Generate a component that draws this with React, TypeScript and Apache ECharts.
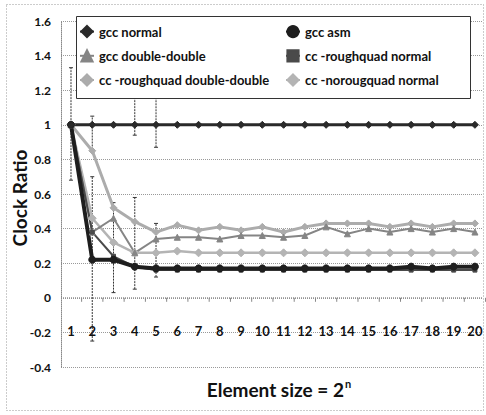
import React, { useEffect, useRef } from "react";
import * as echarts from "echarts";

const categories = [1, 2, 3, 4, 5, 6, 7, 8, 9, 10, 11, 12, 13, 14, 15, 16, 17, 18, 19, 20];
const yTicks = [-0.4, -0.2, 0, 0.2, 0.4, 0.6, 0.8, 1, 1.2, 1.4, 1.6];

const gccNormal = [1, 1, 1, 1, 1, 1, 1, 1, 1, 1, 1, 1, 1, 1, 1, 1, 1, 1, 1, 1];
const gccAsm = [1, 0.22, 0.22, 0.18, 0.17, 0.17, 0.17, 0.17, 0.17, 0.17, 0.17, 0.17, 0.17, 0.17, 0.17, 0.17, 0.18, 0.17, 0.18, 0.18];
const gccDoubleDouble = [1, 0.38, 0.46, 0.26, 0.34, 0.35, 0.35, 0.34, 0.36, 0.36, 0.35, 0.36, 0.41, 0.37, 0.4, 0.38, 0.4, 0.38, 0.4, 0.38];
const ccRoughNormal = [1, 0.38, 0.24, 0.18, 0.16, 0.16, 0.16, 0.16, 0.16, 0.16, 0.16, 0.16, 0.16, 0.16, 0.16, 0.16, 0.16, 0.16, 0.16, 0.16];
const ccRoughDoubleDouble = [1, 0.85, 0.52, 0.44, 0.38, 0.42, 0.39, 0.41, 0.39, 0.41, 0.38, 0.41, 0.43, 0.43, 0.43, 0.41, 0.43, 0.41, 0.43, 0.43];
const ccNoroughNormal = [1, 0.46, 0.32, 0.26, 0.26, 0.27, 0.26, 0.26, 0.26, 0.26, 0.26, 0.26, 0.26, 0.26, 0.26, 0.26, 0.26, 0.26, 0.26, 0.26];

const errX = [1, 2, 2, 3, 4, 4, 5, 5];
const errLow = [0.68, 0.84, -0.25, 0.03, 0.94, 0.05, 0.87, 0.12];
const errHigh = [1.33, 1.05, 0.7, 0.55, 1.16, 0.58, 1.18, 0.43];

const FONT = "Lato, 'Open Sans', sans-serif";

export default function App() {
  const ref = useRef<HTMLDivElement>(null);
  useEffect(() => {
    if (!ref.current) return;
    const chart = echarts.init(ref.current, undefined, { renderer: "svg" });
    const pts = (arr: number[]) => categories.map((c, i) => [c, arr[i]]);
    const errData = errX.map((x, i) => [x, errLow[i], errHigh[i]]);
    const zeroTicks = categories.map((c) => [c + 0.5, 0]);
    const mk = (name: string, data: number[], color: string, width: number, symbol: string, size: number) => ({
      name,
      type: "line",
      data: pts(data),
      z: 2,
      symbol,
      symbolSize: size,
      lineStyle: { color, width },
      itemStyle: { color, borderColor: color, borderWidth: 1 },
      emphasis: { disabled: true },
    });
    const legendText = { fontFamily: FONT, fontSize: 13, fontWeight: "bold", color: "#111" };
    const legendBase = {
      orient: "vertical",
      top: 25,
      padding: 0,
      itemGap: 11,
      itemWidth: 14,
      itemHeight: 14,
      textStyle: legendText,
    };
    chart.setOption({
      animation: false,
      backgroundColor: "#fff",
      grid: { left: 61, right: 3, top: 21, bottom: 48, containLabel: false },
      legend: [
        { ...legendBase, left: 79, data: ["gcc normal", "gcc double-double", "cc -roughquad double-double"] },
        { ...legendBase, left: 285, data: ["gcc asm", "cc -roughquad normal", "cc -norougquad normal"] },
      ],
      xAxis: {
        type: "value",
        min: 0.53,
        max: 20.38,
        splitLine: { show: false },
        axisLine: { show: false, onZero: false },
        axisTick: { show: false },
        axisLabel: {
          customValues: categories,
          margin: -43,
          formatter: (v: number) => String(Math.round(v)),
          fontFamily: FONT,
          fontSize: 13,
          fontWeight: "bold",
          color: "#111",
        },
      },
      yAxis: {
        type: "value",
        min: yTicks[0],
        max: yTicks[yTicks.length - 1],
        interval: 0.2,
        axisLine: { show: true, lineStyle: { color: "#888", type: "dotted" } },
        axisTick: { show: false },
        splitLine: { show: true, lineStyle: { color: "#999", type: "dotted", width: 1 } },
        axisLabel: {
          margin: 10,
          formatter: (v: number) => String(Math.round(v * 10) / 10),
          fontFamily: FONT,
          fontSize: 12,
          fontWeight: "bold",
          color: "#111",
        },
      },
      graphic: [
        {
          type: "rect",
          z: -10,
          shape: { x: 6.5, y: 4.5, width: 477, height: 406 },
          style: { fill: "none", stroke: "#999", lineWidth: 1, lineDash: [1, 2] },
        },
        {
          type: "rect",
          z: 3,
          shape: { x: 76.5, y: 16.5, width: 394, height: 82 },
          style: { fill: "#fff", stroke: "#333", lineWidth: 1 },
        },
        {
          type: "text",
          x: 19,
          y: 198,
          rotation: Math.PI / 2,
          style: {
            text: "Clock Ratio",
            fontFamily: FONT,
            fontSize: 19,
            fontWeight: "bold",
            fill: "#111",
            align: "center",
            verticalAlign: "middle",
          },
        },
        {
          type: "text",
          x: 279,
          y: 389,
          style: {
            text: "{a|Element size = 2}{s|n}",
            align: "center",
            verticalAlign: "middle",
            rich: {
              a: { fontFamily: FONT, fontSize: 19, fontWeight: "bold", fill: "#111" },
              s: { fontFamily: FONT, fontSize: 11, fontWeight: "bold", fill: "#111", verticalAlign: "top", padding: [0, 0, 12, 1] },
            },
          },
        },
      ],
      series: [
        mk("cc -roughquad double-double", ccRoughDoubleDouble, "#acacac", 3, "diamond", 7),
        mk("cc -norougquad normal", ccNoroughNormal, "#b4b4b4", 2.5, "diamond", 8),
        mk("gcc double-double", gccDoubleDouble, "#858585", 2, "triangle", 6),
        mk("cc -roughquad normal", ccRoughNormal, "#4a4a4a", 2, "rect", 4),
        mk("gcc asm", gccAsm, "#1e1e1e", 4, "circle", 7),
        mk("gcc normal", gccNormal, "#2a2a2a", 3, "diamond", 7),
        {
          name: "zero axis",
          type: "custom",
          z: 1,
          silent: true,
          data: zeroTicks,
          renderItem: (params: any, api: any) => {
            const p = api.coord([api.value(0), api.value(1)]);
            const children: any[] = [
              { type: "line", shape: { x1: p[0], y1: p[1], x2: p[0], y2: p[1] + 4 }, style: { stroke: "#888", lineWidth: 1 } },
            ];
            if (params.dataIndex === 0) {
              const a = api.coord([0.53, 0]);
              const b = api.coord([20.38, 0]);
              children.push({ type: "line", shape: { x1: a[0], y1: a[1], x2: b[0], y2: b[1] }, style: { stroke: "#888", lineWidth: 1, lineDash: [1, 1] } });
            }
            return { type: "group", children };
          },
        },
        {
          name: "error",
          type: "custom",
          z: 2,
          silent: true,
          data: errData,
          encode: { x: 0, y: [1, 2] },
          renderItem: (params: any, api: any) => {
            const x = api.value(0);
            const lo = api.coord([x, api.value(1)]);
            const hi = api.coord([x, api.value(2)]);
            const st = { stroke: "#333", lineWidth: 1 };
            return {
              type: "group",
              children: [
                { type: "line", shape: { x1: lo[0], y1: lo[1], x2: hi[0], y2: hi[1] }, style: { ...st, lineDash: [2, 1] } },
                { type: "line", shape: { x1: lo[0] - 2, y1: lo[1], x2: lo[0] + 2, y2: lo[1] }, style: st },
                { type: "line", shape: { x1: hi[0] - 2, y1: hi[1], x2: hi[0] + 2, y2: hi[1] }, style: st },
              ],
            };
          },
        },
      ],
    });
    return () => chart.dispose();
  }, []);
  return <div ref={ref} style={{ position: "fixed", left: 0, top: 0, width: 486, height: 415 }} />;
}
